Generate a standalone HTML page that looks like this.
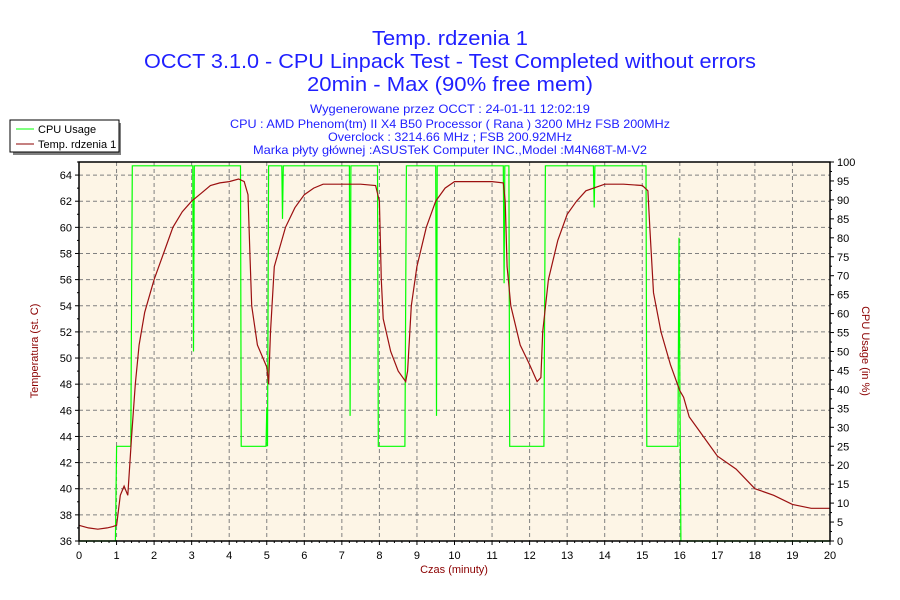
<!DOCTYPE html>
<html><head><meta charset="utf-8">
<style>
body{margin:0;background:#fff;}
svg{display:block;font-family:"Liberation Sans",Arial,sans-serif;}
</style></head>
<body>
<svg id="chart" width="900" height="600" viewBox="0 0 900 600">
<rect x="0" y="0" width="900" height="600" fill="#ffffff"/>
<text x="450" y="45" text-anchor="middle" font-size="20" fill="#1f1fff" textLength="156" lengthAdjust="spacingAndGlyphs">Temp. rdzenia 1</text>
<text x="450" y="68" text-anchor="middle" font-size="20" fill="#1f1fff" textLength="612" lengthAdjust="spacingAndGlyphs">OCCT 3.1.0 - CPU Linpack Test - Test Completed without errors</text>
<text x="450" y="91" text-anchor="middle" font-size="20" fill="#1f1fff" textLength="286" lengthAdjust="spacingAndGlyphs">20min - Max (90% free mem)</text>
<text x="450" y="113" text-anchor="middle" font-size="12" fill="#1f1fff" textLength="280" lengthAdjust="spacingAndGlyphs">Wygenerowane przez OCCT : 24-01-11 12:02:19</text>
<text x="450" y="128" text-anchor="middle" font-size="12" fill="#1f1fff" textLength="440" lengthAdjust="spacingAndGlyphs">CPU : AMD Phenom(tm) II X4 B50 Processor ( Rana ) 3200 MHz FSB 200MHz</text>
<text x="450" y="141" text-anchor="middle" font-size="12" fill="#1f1fff" textLength="244" lengthAdjust="spacingAndGlyphs">Overclock : 3214.66 MHz ; FSB 200.92MHz</text>
<text x="450" y="154" text-anchor="middle" font-size="12" fill="#1f1fff" textLength="394" lengthAdjust="spacingAndGlyphs">Marka płyty głównej :ASUSTeK Computer INC.,Model :M4N68T-M-V2</text>
<g>
<rect x="13" y="123" width="108" height="32" fill="#808080"/>
<rect x="10" y="120" width="109" height="32" fill="#fff" stroke="#000" stroke-width="1"/>
<line x1="16" y1="129" x2="34" y2="129" stroke="#00ff00"/>
<text x="38" y="133" font-size="11" fill="#000">CPU Usage</text>
<line x1="16" y1="144" x2="34" y2="144" stroke="#8b0000"/>
<text x="38" y="148" font-size="11" fill="#000">Temp. rdzenia 1</text>
</g>
<text transform="translate(38,351) rotate(-90)" text-anchor="middle" font-size="11" fill="#8b0000">Temperatura (st. C)</text>
<text transform="translate(862,351) rotate(90)" text-anchor="middle" font-size="11" fill="#8b0000">CPU Usage (in %)</text>
<text x="454" y="573" text-anchor="middle" font-size="11" fill="#8b0000">Czas (minuty)</text>
<g id="plot"></g>
</svg>
<script>
const timeTicks=[0,1,2,3,4,5,6,7,8,9,10,11,12,13,14,15,16,17,18,19,20];
const tempTicks=[36,38,40,42,44,46,48,50,52,54,56,58,60,62,64];
const cpuTicks=[0,5,10,15,20,25,30,35,40,45,50,55,60,65,70,75,80,85,90,95,100];
const tempTimes=[0,0.25,0.5,0.75,0.9,1.0,1.1,1.2,1.3,1.4,1.5,1.6,1.75,2.0,2.25,2.5,2.75,3.0,3.25,3.5,3.75,4.0,4.25,4.4,4.5,4.55,4.6,4.75,5.0,5.05,5.1,5.2,5.3,5.5,5.75,6.0,6.25,6.5,7.0,7.5,7.9,8.0,8.05,8.1,8.3,8.5,8.7,8.75,8.85,9.0,9.25,9.5,9.75,10.0,10.5,11.0,11.3,11.35,11.4,11.5,11.75,12.0,12.2,12.3,12.35,12.5,12.75,13.0,13.25,13.5,14.0,14.5,15.0,15.15,15.2,15.3,15.5,15.75,16.0,16.1,16.25,16.5,16.75,17.0,17.5,18.0,18.5,19.0,19.5,20.0];
const tempValues=[37.2,37.0,36.9,37.0,37.1,37.2,39.5,40.2,39.5,44,48,51,53.5,56,58,60,61.2,62,62.6,63.2,63.4,63.5,63.7,63.5,62.5,58,54,51,49.3,48,52,57,58,60,61.5,62.5,63,63.3,63.3,63.3,63.2,62,56,53,50.5,49,48.2,49,54,57,60,62,63,63.5,63.5,63.5,63.4,62,57,54,51,49.5,48.2,48.5,52,56,59,61,62,62.8,63.3,63.3,63.2,62.8,60,55,52,49.5,47.5,47,45.5,44.5,43.5,42.5,41.5,40,39.5,38.8,38.5,38.5];
const cpuTimes=[0,0.97,1.0,1.38,1.42,3.03,3.05,3.07,4.3,4.32,4.98,5.0,5.02,5.05,5.4,5.42,5.44,7.2,7.22,7.24,7.95,7.97,8.68,8.72,9.5,9.52,9.54,11.3,11.32,11.34,11.45,11.47,12.38,12.42,13.7,13.72,13.74,15.1,15.12,15.95,15.98,16.0,16.03,20];
const cpuValues=[0,0,25,25,99,99,50,99,99,25,25,35,25,99,99,85,99,99,33,99,99,25,25,99,99,33,99,99,68,99,99,25,25,99,99,88,99,99,25,25,80,45,0,0];

const svgNS="http://www.w3.org/2000/svg";
const X0=79,X1=830,YT=162,YB=541;
const xs=t=>X0+(t/20)*(X1-X0);
const yT=v=>YB-(v-36)/(65-36)*(YB-YT);
const yC=v=>YB-(v/100)*(YB-YT);
const plot=document.getElementById('plot');
function el(tag,attrs){const e=document.createElementNS(svgNS,tag);for(const k in attrs)e.setAttribute(k,attrs[k]);plot.appendChild(e);return e;}
const bg=el('rect',{x:X0,y:YT,width:X1-X0,height:YB-YT,fill:'#fdf5e6'});


timeTicks.forEach(t=>{
  if(t>0&&t<20){const g=el('line',{x1:xs(t),x2:xs(t),y1:YT,y2:YB,stroke:'#808080','stroke-dasharray':'4,3'});
  
  }
  el('line',{x1:xs(t),x2:xs(t),y1:YB,y2:YB+4,stroke:'#000'});
  for(let k=1;k<5&&t<20;k++)el('line',{x1:xs(t+k*0.2),x2:xs(t+k*0.2),y1:YB,y2:YB+2,stroke:'#000'});
  const tx=el('text',{x:xs(t),y:YB+18,'text-anchor':'middle','font-size':11,fill:'#000'});tx.textContent=t;
  
  
});
tempTicks.forEach(v=>{
  if(v>36){const g=el('line',{x1:X0,x2:X1,y1:yT(v),y2:yT(v),stroke:'#808080','stroke-dasharray':'4,3'});
  
  }
  el('line',{x1:X0-4,x2:X0,y1:yT(v),y2:yT(v),stroke:'#000'});
  el('line',{x1:X0-2,x2:X0,y1:yT(v+1),y2:yT(v+1),stroke:'#000'});
  const tx=el('text',{x:X0-7,y:yT(v)+4,'text-anchor':'end','font-size':11,fill:'#000'});tx.textContent=v;
  
  
});
cpuTicks.forEach(v=>{
  el('line',{x1:X1,x2:X1+4,y1:yC(v),y2:yC(v),stroke:'#000'});
  if(v<100)el('line',{x1:X1,x2:X1+2,y1:yC(v+2.5),y2:yC(v+2.5),stroke:'#000'});
  const tx=el('text',{x:X1+7,y:yC(v)+4,'font-size':11,fill:'#000'});tx.textContent=v;
  
  
});
const cpuPts=cpuTimes.map((t,i)=>xs(t).toFixed(1)+','+yC(cpuValues[i]).toFixed(1)).join(' ');
const cpuLine=el('polyline',{points:cpuPts,fill:'none',stroke:'#00ff00','stroke-width':1.2});


const tPts=tempTimes.map((t,i)=>xs(t).toFixed(1)+','+yT(tempValues[i]).toFixed(1)).join(' ');
const tLine=el('polyline',{points:tPts,fill:'none',stroke:'#9b1010','stroke-width':1.2});


const frame=el('rect',{x:X0,y:YT,width:X1-X0,height:YB-YT,fill:'none',stroke:'#000','stroke-width':1.5});


</script>
</body></html>
